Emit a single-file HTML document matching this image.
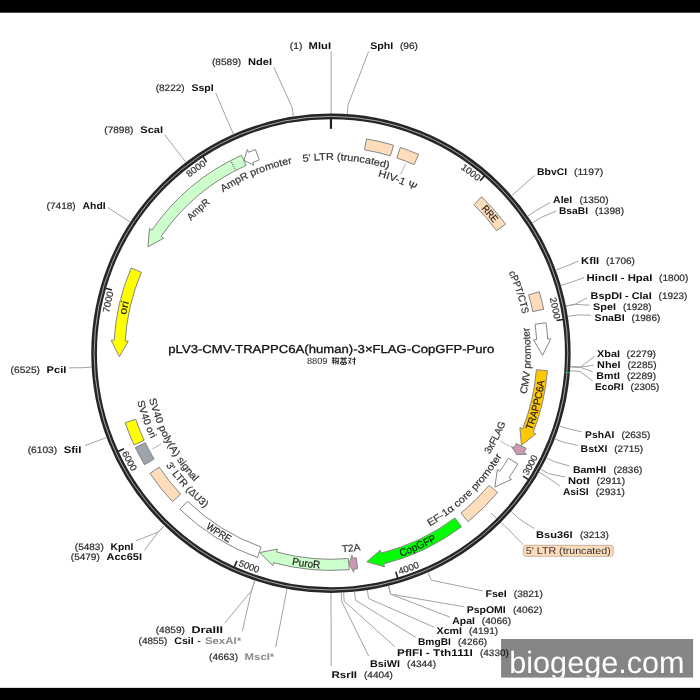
<!DOCTYPE html>
<html><head><meta charset="utf-8"><title>pLV3-CMV-TRAPPC6A(human)-3xFLAG-CopGFP-Puro</title>
<style>
html,body{margin:0;padding:0;background:#fff;}
body{width:700px;height:700px;overflow:hidden;position:relative;font-family:"Liberation Sans", sans-serif;}
svg{position:absolute;left:0;top:0;will-change:transform;filter:blur(0.3px);}
svg text{font-family:"Liberation Sans", sans-serif;text-rendering:geometricPrecision;}
</style></head><body>
<svg width="700" height="700" viewBox="0 0 700 700">
<path d="M490.9 513.1 L504.6 525.7 L523.2 544.6" fill="none" stroke="#a2a2a2" stroke-width="1"/>
<circle cx="330.95" cy="353.2" r="236.85" fill="none" stroke="#262626" stroke-width="5.7"/>
<path d="M330.95 113.8 L330.95 128.8" fill="none" stroke="#222" stroke-width="2.2"/>
<circle cx="330.95" cy="353.2" r="236.85" fill="none" stroke="#a8a8a8" stroke-width="1.0"/>
<path d="M484.39 175.86 L480.13 180.78" fill="none" stroke="#222" stroke-width="1.6"/>
<path id="p1" d="M460.51 168.52 A225.6 225.6 0 0 1 477.35 181.55" fill="none"/>
<text font-size="9.3" fill="#333" font-weight="normal" stroke="#333" stroke-width="0.2"><textPath href="#p1" textLength="21.3" lengthAdjust="spacingAndGlyphs">1000</textPath></text>
<path d="M563.01 319.49 L556.58 320.42" fill="none" stroke="#222" stroke-width="1.6"/>
<path id="p2" d="M549.77 298.31 A225.6 225.6 0 0 1 553.97 319.19" fill="none"/>
<text font-size="9.3" fill="#333" font-weight="normal" stroke="#333" stroke-width="0.2"><textPath href="#p2" textLength="21.3" lengthAdjust="spacingAndGlyphs">2000</textPath></text>
<path d="M528.5 479.55 L523.03 476.05" fill="none" stroke="#222" stroke-width="1.6"/>
<path id="p3" d="M527.64 475.67 A231.7 231.7 0 0 0 538.05 457.1" fill="none"/>
<text font-size="9.3" fill="#333" font-weight="normal" stroke="#333" stroke-width="0.2"><textPath href="#p3" textLength="21.3" lengthAdjust="spacingAndGlyphs">3000</textPath></text>
<path d="M397.67 578.01 L395.82 571.78" fill="none" stroke="#222" stroke-width="1.6"/>
<path id="p4" d="M399.56 574.51 A231.7 231.7 0 0 0 419.58 567.28" fill="none"/>
<text font-size="9.3" fill="#333" font-weight="normal" stroke="#333" stroke-width="0.2"><textPath href="#p4" textLength="21.3" lengthAdjust="spacingAndGlyphs">4000</textPath></text>
<path d="M234.31 566.86 L236.99 560.94" fill="none" stroke="#222" stroke-width="1.6"/>
<path id="p5" d="M238.03 565.45 A231.7 231.7 0 0 0 257.9 573.08" fill="none"/>
<text font-size="9.3" fill="#333" font-weight="normal" stroke="#333" stroke-width="0.2"><textPath href="#p5" textLength="21.3" lengthAdjust="spacingAndGlyphs">5000</textPath></text>
<path d="M118.07 451.55 L123.97 448.82" fill="none" stroke="#222" stroke-width="1.6"/>
<path id="p6" d="M121.8 452.91 A231.7 231.7 0 0 0 131.84 471.69" fill="none"/>
<text font-size="9.3" fill="#333" font-weight="normal" stroke="#333" stroke-width="0.2"><textPath href="#p6" textLength="21.3" lengthAdjust="spacingAndGlyphs">6000</textPath></text>
<path d="M105.61 288.28 L111.86 290.08" fill="none" stroke="#222" stroke-width="1.6"/>
<path id="p7" d="M108.95 313.04 A225.6 225.6 0 0 1 113.73 292.29" fill="none"/>
<text font-size="9.3" fill="#333" font-weight="normal" stroke="#333" stroke-width="0.2"><textPath href="#p7" textLength="21.3" lengthAdjust="spacingAndGlyphs">7000</textPath></text>
<path d="M203.02 156.67 L206.57 162.12" fill="none" stroke="#222" stroke-width="1.6"/>
<path id="p8" d="M189.35 177.57 A225.6 225.6 0 0 1 206.54 165.01" fill="none"/>
<text font-size="9.3" fill="#333" font-weight="normal" stroke="#333" stroke-width="0.2"><textPath href="#p8" textLength="21.3" lengthAdjust="spacingAndGlyphs">8000</textPath></text>
<path d="M564.17 372.33 L569.85 372.8" fill="none" stroke="#22b14c" stroke-width="1"/>
<path d="M366.42 138.92 A217.2 217.2 0 0 1 393.57 145.22 L390.37 155.85 A206.1 206.1 0 0 0 364.61 149.87 Z" fill="#FFDDBB" stroke="#858585" stroke-width="1" stroke-linejoin="miter"/>
<path d="M400.36 147.39 A217.2 217.2 0 0 1 418.55 154.45 L414.07 164.6 A206.1 206.1 0 0 0 396.81 157.91 Z" fill="#FFDDBB" stroke="#858585" stroke-width="1" stroke-linejoin="miter"/>
<path d="M481.65 196.78 A217.2 217.2 0 0 1 505.63 224.11 L496.7 230.71 A206.1 206.1 0 0 0 473.94 204.78 Z" fill="#FFDDBB" stroke="#858585" stroke-width="1" stroke-linejoin="miter"/>
<path d="M539.27 291.73 A217.2 217.2 0 0 1 543.67 309.31 L532.8 311.56 A206.1 206.1 0 0 0 528.63 294.88 Z" fill="#FFDDBB" stroke="#858585" stroke-width="1" stroke-linejoin="miter"/>
<path d="M546 322.74 A217.2 217.2 0 0 1 547.69 339 L550.73 338.8 L542.59 355.28 L533.57 339.92 L536.61 339.72 A206.1 206.1 0 0 0 535.01 324.3 Z" fill="#FFFFFF" stroke="#858585" stroke-width="1" stroke-linejoin="miter"/>
<path d="M547.45 370.65 A217.2 217.2 0 0 1 533.06 432.76 L535.89 433.87 L521.47 445.38 L519.89 427.57 L522.73 428.69 A206.1 206.1 0 0 0 536.38 369.76 Z" fill="#FFC800" stroke="#858585" stroke-width="1" stroke-linejoin="miter"/>
<path d="M526.2 448.35 A217.2 217.2 0 0 1 523.94 452.85 L526.65 454.25 L516.71 454.64 L511.37 446.36 L514.08 447.76 A206.1 206.1 0 0 0 516.22 443.49 Z" fill="#CC99B2" stroke="#858585" stroke-width="1" stroke-linejoin="miter"/>
<path d="M517.83 463.9 A217.2 217.2 0 0 1 508.97 477.63 L511.47 479.38 L494.82 487.15 L497.38 469.52 L499.88 471.27 A206.1 206.1 0 0 0 508.28 458.24 Z" fill="#FFFFFF" stroke="#858585" stroke-width="1" stroke-linejoin="miter"/>
<path d="M497.64 492.45 A217.2 217.2 0 0 1 468.02 521.68 L461.02 513.07 A206.1 206.1 0 0 0 489.12 485.34 Z" fill="#FFDDBB" stroke="#858585" stroke-width="1" stroke-linejoin="miter"/>
<path d="M461.56 526.74 A217.2 217.2 0 0 1 383.78 563.88 L384.52 566.83 L366.78 561.79 L380.34 550.15 L381.08 553.11 A206.1 206.1 0 0 0 454.88 517.88 Z" fill="#00FF00" stroke="#858585" stroke-width="1" stroke-linejoin="miter"/>
<path d="M357.61 568.76 A217.2 217.2 0 0 1 353.53 569.22 L353.84 572.26 L348.97 564.08 L352.06 555.15 L352.37 558.18 A206.1 206.1 0 0 0 356.24 557.74 Z" fill="#CC99B2" stroke="#858585" stroke-width="1" stroke-linejoin="miter"/>
<path d="M349.29 569.62 A217.2 217.2 0 0 1 273.62 562.7 L272.81 565.64 L259.82 552.54 L277.35 549.05 L276.55 551.99 A206.1 206.1 0 0 0 348.35 558.56 Z" fill="#CCFFCC" stroke="#858585" stroke-width="1" stroke-linejoin="miter"/>
<path d="M257.38 557.56 A217.2 217.2 0 0 1 179.86 509.24 L187.59 501.27 A206.1 206.1 0 0 0 261.14 547.12 Z" fill="#FFFFFF" stroke="#858585" stroke-width="1" stroke-linejoin="miter"/>
<path d="M172.48 501.73 A217.2 217.2 0 0 1 150 473.34 L159.25 467.2 A206.1 206.1 0 0 0 180.58 494.14 Z" fill="#FFDDBB" stroke="#858585" stroke-width="1" stroke-linejoin="miter"/>
<path d="M144.55 464.69 A217.2 217.2 0 0 1 135.3 447.51 L145.29 442.69 A206.1 206.1 0 0 0 154.08 459 Z" fill="#9FA3AB" stroke="#858585" stroke-width="1" stroke-linejoin="miter"/>
<path d="M134.1 444.99 A217.2 217.2 0 0 1 125.17 422.72 L135.69 419.16 A206.1 206.1 0 0 0 144.16 440.3 Z" fill="#FFFF00" stroke="#858585" stroke-width="1" stroke-linejoin="miter"/>
<path d="M131.17 267.98 A217.2 217.2 0 0 0 114.13 340.31 L111.09 340.13 L119.33 356.63 L128.26 341.15 L125.21 340.97 A206.1 206.1 0 0 1 141.38 272.34 Z" fill="#FFFF00" stroke="#858585" stroke-width="1" stroke-linejoin="miter"/>
<path d="M241.51 155.27 A217.2 217.2 0 0 0 151.95 230.17 L149.44 228.44 L147.97 246.83 L163.61 238.19 L161.1 236.46 A206.1 206.1 0 0 1 246.08 165.38 Z" fill="#CCFFCC" stroke="#858585" stroke-width="1" stroke-linejoin="miter"/>
<path d="M255.41 149.56 A217.2 217.2 0 0 0 248.48 152.26 L247.33 149.44 L243.94 160.26 L253.86 165.35 L252.7 162.53 A206.1 206.1 0 0 1 259.27 159.97 Z" fill="#FFFFFF" stroke="#858585" stroke-width="1" stroke-linejoin="miter"/>
<path d="M235.22 169.33 L231.2 161.61" stroke="#333" stroke-width="1" stroke-dasharray="1.1 1.3" fill="none"/>
<path id="p9" d="M481.15 209.1 A208.15 208.15 0 0 1 493.35 223" fill="none"/>
<text font-size="10" fill="#111" font-weight="normal" stroke="#333" stroke-width="0.2"><textPath href="#p9" textLength="18.5" lengthAdjust="spacingAndGlyphs">RRE</textPath></text>
<path id="p10" d="M531.91 430.6 A215.35 215.35 0 0 0 544.52 380.79" fill="none"/>
<text font-size="10.2" fill="#111" font-weight="normal" stroke="#333" stroke-width="0.2"><textPath href="#p10" textLength="51.5" lengthAdjust="spacingAndGlyphs">TRAPPC6A</textPath></text>
<path id="p11" d="M400.98 556.63 A215.15 215.15 0 0 0 436.94 540.43" fill="none"/>
<text font-size="10.6" fill="#111" font-weight="normal" stroke="#333" stroke-width="0.2"><textPath href="#p11" textLength="39.5" lengthAdjust="spacingAndGlyphs">CopGFP</textPath></text>
<path id="p12" d="M291.71 564.84 A215.25 215.25 0 0 0 320.1 568.18" fill="none"/>
<text font-size="10.5" fill="#111" font-weight="normal" stroke="#333" stroke-width="0.2"><textPath href="#p12" textLength="28.6" lengthAdjust="spacingAndGlyphs">PuroR</textPath></text>
<path id="p13" d="M205.47 528.09 A215.25 215.25 0 0 0 228.77 542.65" fill="none"/>
<text font-size="10.4" fill="#222" font-weight="normal" stroke="#333" stroke-width="0.2"><textPath href="#p13" textLength="27.5" lengthAdjust="spacingAndGlyphs">WPRE</textPath></text>
<path id="p14" d="M126.15 314.93 A208.35 208.35 0 0 1 128.98 302.04" fill="none"/>
<text font-size="10.5" fill="#111" font-weight="normal" stroke="#333" stroke-width="0.2"><textPath href="#p14" textLength="13.2" lengthAdjust="spacingAndGlyphs">ori</textPath></text>
<path id="p15" d="M190.92 220.97 A192.6 192.6 0 0 1 210.38 203.01" fill="none"/>
<text font-size="10" fill="#333" font-weight="normal" stroke="#333" stroke-width="0.2"><textPath href="#p15" textLength="26.5" lengthAdjust="spacingAndGlyphs">AmpR</textPath></text>
<path id="p16" d="M223.13 192.4 A193.6 193.6 0 0 1 292.16 163.53" fill="none"/>
<text font-size="10" fill="#333" font-weight="normal" stroke="#333" stroke-width="0.2"><textPath href="#p16" textLength="75.3" lengthAdjust="spacingAndGlyphs">AmpR promoter</textPath></text>
<path id="p17" d="M302.97 162.04 A193.2 193.2 0 0 1 388.49 168.77" fill="none"/>
<text font-size="10" fill="#333" font-weight="normal" stroke="#333" stroke-width="0.2"><textPath href="#p17" textLength="86.5" lengthAdjust="spacingAndGlyphs">5' LTR (truncated)</textPath></text>
<path id="p18" d="M377.77 176.29 A183 183 0 0 1 415.1 190.7" fill="none"/>
<text font-size="10" fill="#333" font-weight="normal" stroke="#333" stroke-width="0.2"><textPath href="#p18" textLength="40.1" lengthAdjust="spacingAndGlyphs">HIV-1 &#936;</textPath></text>
<path id="p19" d="M508.68 272.47 A195.2 195.2 0 0 1 522.18 314.04" fill="none"/>
<text font-size="10" fill="#333" font-weight="normal" stroke="#333" stroke-width="0.2"><textPath href="#p19" textLength="43.8" lengthAdjust="spacingAndGlyphs">cPPT/CTS</textPath></text>
<path id="p20" d="M526.48 394.28 A199.8 199.8 0 0 0 529.06 327.25" fill="none"/>
<text font-size="10" fill="#333" font-weight="normal" stroke="#333" stroke-width="0.2"><textPath href="#p20" textLength="67.4" lengthAdjust="spacingAndGlyphs">CMV promoter</textPath></text>
<path id="p21" d="M489.49 454.61 A188.2 188.2 0 0 0 505.7 423.08" fill="none"/>
<text font-size="10" fill="#333" font-weight="normal" stroke="#333" stroke-width="0.2"><textPath href="#p21" textLength="35.5" lengthAdjust="spacingAndGlyphs">3xFLAG</textPath></text>
<path id="p22" d="M429.65 526.57 A199.5 199.5 0 0 0 501.86 456.11" fill="none"/>
<text font-size="10" fill="#333" font-weight="normal" stroke="#333" stroke-width="0.2"><textPath href="#p22" textLength="102" lengthAdjust="spacingAndGlyphs">EF-1&#945; core promoter</textPath></text>
<path id="p23" d="M149.11 398.91 A187.5 187.5 0 0 0 194.47 481.77" fill="none"/>
<text font-size="10" fill="#333" font-weight="normal" stroke="#333" stroke-width="0.2"><textPath href="#p23" textLength="95.5" lengthAdjust="spacingAndGlyphs">SV40 poly(A) signal</textPath></text>
<path id="p24" d="M342.17 552.18 A199.3 199.3 0 0 0 360.66 550.27" fill="none"/>
<text font-size="10" fill="#333" font-weight="normal" stroke="#333" stroke-width="0.2"><textPath href="#p24" textLength="18.6" lengthAdjust="spacingAndGlyphs">T2A</textPath></text>
<path id="p25" d="M137.34 401.31 A199.5 199.5 0 0 0 150.8 438.91" fill="none"/>
<text font-size="10" fill="#333" font-weight="normal" stroke="#333" stroke-width="0.2"><textPath href="#p25" textLength="40" lengthAdjust="spacingAndGlyphs">SV40 ori</textPath></text>
<path id="p26" d="M165.89 465.25 A199.5 199.5 0 0 0 204.94 507.86" fill="none"/>
<text font-size="10" fill="#333" font-weight="normal" stroke="#333" stroke-width="0.2"><textPath href="#p26" textLength="58" lengthAdjust="spacingAndGlyphs">3' LTR (&#916;U3)</textPath></text>
<path d="M405.7 163.4 L400.5 174.5" fill="none" stroke="#a2a2a2" stroke-width="0.8"/>
<path d="M152.3 449.1 L161.4 443.7" fill="none" stroke="#a2a2a2" stroke-width="0.8"/>
<path d="M500.3 441 L510.3 446.7" fill="none" stroke="#a2a2a2" stroke-width="0.8"/>
<text x="370.2" y="48.8" font-size="9.7" font-weight="bold" fill="#111" text-anchor="start" textLength="23.1" lengthAdjust="spacingAndGlyphs">SphI</text>
<text x="400" y="48.8" font-size="9.2" font-weight="normal" fill="#2a2a2a" text-anchor="start" textLength="18" lengthAdjust="spacingAndGlyphs" stroke="#2a2a2a" stroke-width="0.2">(96)</text>
<text x="537.1" y="175.1" font-size="9.7" font-weight="bold" fill="#111" text-anchor="start" textLength="30" lengthAdjust="spacingAndGlyphs">BbvCI</text>
<text x="574" y="175.1" font-size="9.2" font-weight="normal" fill="#2a2a2a" text-anchor="start" textLength="29.1" lengthAdjust="spacingAndGlyphs" stroke="#2a2a2a" stroke-width="0.2">(1197)</text>
<text x="553.1" y="202.9" font-size="9.7" font-weight="bold" fill="#111" text-anchor="start" textLength="19.2" lengthAdjust="spacingAndGlyphs">AleI</text>
<text x="579.4" y="202.9" font-size="9.2" font-weight="normal" fill="#2a2a2a" text-anchor="start" textLength="29.2" lengthAdjust="spacingAndGlyphs" stroke="#2a2a2a" stroke-width="0.2">(1350)</text>
<text x="558.9" y="213.6" font-size="9.7" font-weight="bold" fill="#111" text-anchor="start" textLength="29.1" lengthAdjust="spacingAndGlyphs">BsaBI</text>
<text x="594.9" y="213.6" font-size="9.2" font-weight="normal" fill="#2a2a2a" text-anchor="start" textLength="29.1" lengthAdjust="spacingAndGlyphs" stroke="#2a2a2a" stroke-width="0.2">(1398)</text>
<text x="581.1" y="264.3" font-size="9.7" font-weight="bold" fill="#111" text-anchor="start" textLength="18" lengthAdjust="spacingAndGlyphs">KflI</text>
<text x="606" y="264.3" font-size="9.2" font-weight="normal" fill="#2a2a2a" text-anchor="start" textLength="28.9" lengthAdjust="spacingAndGlyphs" stroke="#2a2a2a" stroke-width="0.2">(1706)</text>
<text x="586.6" y="280.9" font-size="9.7" font-weight="bold" fill="#111" text-anchor="start" textLength="65.7" lengthAdjust="spacingAndGlyphs">HincII - HpaI</text>
<text x="659.1" y="280.9" font-size="9.2" font-weight="normal" fill="#2a2a2a" text-anchor="start" textLength="29.2" lengthAdjust="spacingAndGlyphs" stroke="#2a2a2a" stroke-width="0.2">(1800)</text>
<text x="590.6" y="298.9" font-size="9.7" font-weight="bold" fill="#111" text-anchor="start" textLength="61.1" lengthAdjust="spacingAndGlyphs">BspDI - ClaI</text>
<text x="658.6" y="298.9" font-size="9.2" font-weight="normal" fill="#2a2a2a" text-anchor="start" textLength="28.8" lengthAdjust="spacingAndGlyphs" stroke="#2a2a2a" stroke-width="0.2">(1923)</text>
<text x="593.1" y="309.6" font-size="9.7" font-weight="bold" fill="#111" text-anchor="start" textLength="22.9" lengthAdjust="spacingAndGlyphs">SpeI</text>
<text x="622.9" y="309.6" font-size="9.2" font-weight="normal" fill="#2a2a2a" text-anchor="start" textLength="28.8" lengthAdjust="spacingAndGlyphs" stroke="#2a2a2a" stroke-width="0.2">(1928)</text>
<text x="594.6" y="320.6" font-size="9.7" font-weight="bold" fill="#111" text-anchor="start" textLength="30" lengthAdjust="spacingAndGlyphs">SnaBI</text>
<text x="631.4" y="320.6" font-size="9.2" font-weight="normal" fill="#2a2a2a" text-anchor="start" textLength="28.9" lengthAdjust="spacingAndGlyphs" stroke="#2a2a2a" stroke-width="0.2">(1986)</text>
<text x="597.1" y="357" font-size="9.7" font-weight="bold" fill="#111" text-anchor="start" textLength="22.9" lengthAdjust="spacingAndGlyphs">XbaI</text>
<text x="626.6" y="357" font-size="9.2" font-weight="normal" fill="#2a2a2a" text-anchor="start" textLength="29.4" lengthAdjust="spacingAndGlyphs" stroke="#2a2a2a" stroke-width="0.2">(2279)</text>
<text x="597.1" y="368" font-size="9.7" font-weight="bold" fill="#111" text-anchor="start" textLength="23.5" lengthAdjust="spacingAndGlyphs">NheI</text>
<text x="627.4" y="368" font-size="9.2" font-weight="normal" fill="#2a2a2a" text-anchor="start" textLength="29.2" lengthAdjust="spacingAndGlyphs" stroke="#2a2a2a" stroke-width="0.2">(2285)</text>
<text x="596.3" y="378.6" font-size="9.7" font-weight="bold" fill="#111" text-anchor="start" textLength="23.7" lengthAdjust="spacingAndGlyphs">BmtI</text>
<text x="626.9" y="378.6" font-size="9.2" font-weight="normal" fill="#2a2a2a" text-anchor="start" textLength="29.1" lengthAdjust="spacingAndGlyphs" stroke="#2a2a2a" stroke-width="0.2">(2289)</text>
<text x="595.1" y="389.8" font-size="9.7" font-weight="bold" fill="#111" text-anchor="start" textLength="28.6" lengthAdjust="spacingAndGlyphs">EcoRI</text>
<text x="630.6" y="389.8" font-size="9.2" font-weight="normal" fill="#2a2a2a" text-anchor="start" textLength="28.8" lengthAdjust="spacingAndGlyphs" stroke="#2a2a2a" stroke-width="0.2">(2305)</text>
<text x="585.1" y="437.8" font-size="9.7" font-weight="bold" fill="#111" text-anchor="start" textLength="29.2" lengthAdjust="spacingAndGlyphs">PshAI</text>
<text x="621.4" y="437.8" font-size="9.2" font-weight="normal" fill="#2a2a2a" text-anchor="start" textLength="28.9" lengthAdjust="spacingAndGlyphs" stroke="#2a2a2a" stroke-width="0.2">(2635)</text>
<text x="580.6" y="452.3" font-size="9.7" font-weight="bold" fill="#111" text-anchor="start" textLength="26.8" lengthAdjust="spacingAndGlyphs">BstXI</text>
<text x="614.3" y="452.3" font-size="9.2" font-weight="normal" fill="#2a2a2a" text-anchor="start" textLength="28.8" lengthAdjust="spacingAndGlyphs" stroke="#2a2a2a" stroke-width="0.2">(2715)</text>
<text x="572.9" y="473" font-size="9.7" font-weight="bold" fill="#111" text-anchor="start" textLength="33.4" lengthAdjust="spacingAndGlyphs">BamHI</text>
<text x="613.4" y="473" font-size="9.2" font-weight="normal" fill="#2a2a2a" text-anchor="start" textLength="28.9" lengthAdjust="spacingAndGlyphs" stroke="#2a2a2a" stroke-width="0.2">(2836)</text>
<text x="568" y="483.7" font-size="9.7" font-weight="bold" fill="#111" text-anchor="start" textLength="21.7" lengthAdjust="spacingAndGlyphs">NotI</text>
<text x="596.6" y="483.7" font-size="9.2" font-weight="normal" fill="#2a2a2a" text-anchor="start" textLength="28.5" lengthAdjust="spacingAndGlyphs" stroke="#2a2a2a" stroke-width="0.2">(2911)</text>
<text x="562.9" y="494.9" font-size="9.7" font-weight="bold" fill="#111" text-anchor="start" textLength="25.7" lengthAdjust="spacingAndGlyphs">AsiSI</text>
<text x="595.7" y="494.9" font-size="9.2" font-weight="normal" fill="#2a2a2a" text-anchor="start" textLength="29.2" lengthAdjust="spacingAndGlyphs" stroke="#2a2a2a" stroke-width="0.2">(2931)</text>
<text x="536.1" y="537.6" font-size="9.7" font-weight="bold" fill="#111" text-anchor="start" textLength="36.4" lengthAdjust="spacingAndGlyphs">Bsu36I</text>
<text x="580" y="537.6" font-size="9.2" font-weight="normal" fill="#2a2a2a" text-anchor="start" textLength="28.8" lengthAdjust="spacingAndGlyphs" stroke="#2a2a2a" stroke-width="0.2">(3213)</text>
<text x="485.4" y="596.7" font-size="9.7" font-weight="bold" fill="#111" text-anchor="start" textLength="21.4" lengthAdjust="spacingAndGlyphs">FseI</text>
<text x="513.8" y="596.7" font-size="9.2" font-weight="normal" fill="#2a2a2a" text-anchor="start" textLength="29" lengthAdjust="spacingAndGlyphs" stroke="#2a2a2a" stroke-width="0.2">(3821)</text>
<text x="466.7" y="613" font-size="9.7" font-weight="bold" fill="#111" text-anchor="start" textLength="39.1" lengthAdjust="spacingAndGlyphs">PspOMI</text>
<text x="513" y="613" font-size="9.2" font-weight="normal" fill="#2a2a2a" text-anchor="start" textLength="29.3" lengthAdjust="spacingAndGlyphs" stroke="#2a2a2a" stroke-width="0.2">(4062)</text>
<text x="452.3" y="623.7" font-size="9.7" font-weight="bold" fill="#111" text-anchor="start" textLength="22.6" lengthAdjust="spacingAndGlyphs">ApaI</text>
<text x="481.8" y="623.7" font-size="9.2" font-weight="normal" fill="#2a2a2a" text-anchor="start" textLength="29.2" lengthAdjust="spacingAndGlyphs" stroke="#2a2a2a" stroke-width="0.2">(4066)</text>
<text x="436.6" y="634" font-size="9.7" font-weight="bold" fill="#111" text-anchor="start" textLength="25.4" lengthAdjust="spacingAndGlyphs">XcmI</text>
<text x="469" y="634" font-size="9.2" font-weight="normal" fill="#2a2a2a" text-anchor="start" textLength="29.2" lengthAdjust="spacingAndGlyphs" stroke="#2a2a2a" stroke-width="0.2">(4191)</text>
<text x="418" y="645.1" font-size="9.7" font-weight="bold" fill="#111" text-anchor="start" textLength="32.9" lengthAdjust="spacingAndGlyphs">BmgBI</text>
<text x="458" y="645.1" font-size="9.2" font-weight="normal" fill="#2a2a2a" text-anchor="start" textLength="29.1" lengthAdjust="spacingAndGlyphs" stroke="#2a2a2a" stroke-width="0.2">(4266)</text>
<text x="397.1" y="655.6" font-size="9.7" font-weight="bold" fill="#111" text-anchor="start" textLength="75.8" lengthAdjust="spacingAndGlyphs">PflFI - Tth111I</text>
<text x="480" y="655.6" font-size="9.2" font-weight="normal" fill="#2a2a2a" text-anchor="start" textLength="28.8" lengthAdjust="spacingAndGlyphs" stroke="#2a2a2a" stroke-width="0.2">(4330)</text>
<text x="370" y="666.6" font-size="9.7" font-weight="bold" fill="#111" text-anchor="start" textLength="30" lengthAdjust="spacingAndGlyphs">BsiWI</text>
<text x="407.1" y="666.6" font-size="9.2" font-weight="normal" fill="#2a2a2a" text-anchor="start" textLength="28.9" lengthAdjust="spacingAndGlyphs" stroke="#2a2a2a" stroke-width="0.2">(4344)</text>
<text x="331.4" y="677.7" font-size="9.7" font-weight="bold" fill="#111" text-anchor="start" textLength="25.7" lengthAdjust="spacingAndGlyphs">RsrII</text>
<text x="364" y="677.7" font-size="9.2" font-weight="normal" fill="#2a2a2a" text-anchor="start" textLength="28.9" lengthAdjust="spacingAndGlyphs" stroke="#2a2a2a" stroke-width="0.2">(4404)</text>
<text x="308.6" y="48.8" font-size="9.7" font-weight="bold" fill="#111" text-anchor="start" textLength="22.4" lengthAdjust="spacingAndGlyphs">MluI</text>
<text x="289.8" y="48.8" font-size="9.2" font-weight="normal" fill="#2a2a2a" text-anchor="start" textLength="12.5" lengthAdjust="spacingAndGlyphs" stroke="#2a2a2a" stroke-width="0.2">(1)</text>
<text x="248" y="64.9" font-size="9.7" font-weight="bold" fill="#111" text-anchor="start" textLength="24" lengthAdjust="spacingAndGlyphs">NdeI</text>
<text x="212" y="64.9" font-size="9.2" font-weight="normal" fill="#2a2a2a" text-anchor="start" textLength="29.1" lengthAdjust="spacingAndGlyphs" stroke="#2a2a2a" stroke-width="0.2">(8589)</text>
<text x="191.4" y="90.9" font-size="9.7" font-weight="bold" fill="#111" text-anchor="start" textLength="22.3" lengthAdjust="spacingAndGlyphs">SspI</text>
<text x="155.7" y="90.9" font-size="9.2" font-weight="normal" fill="#2a2a2a" text-anchor="start" textLength="28.9" lengthAdjust="spacingAndGlyphs" stroke="#2a2a2a" stroke-width="0.2">(8222)</text>
<text x="140.3" y="132.9" font-size="9.7" font-weight="bold" fill="#111" text-anchor="start" textLength="22.8" lengthAdjust="spacingAndGlyphs">ScaI</text>
<text x="104.3" y="132.9" font-size="9.2" font-weight="normal" fill="#2a2a2a" text-anchor="start" textLength="29.1" lengthAdjust="spacingAndGlyphs" stroke="#2a2a2a" stroke-width="0.2">(7898)</text>
<text x="82.6" y="208.6" font-size="9.7" font-weight="bold" fill="#111" text-anchor="start" textLength="23.1" lengthAdjust="spacingAndGlyphs">AhdI</text>
<text x="46.6" y="208.6" font-size="9.2" font-weight="normal" fill="#2a2a2a" text-anchor="start" textLength="29.1" lengthAdjust="spacingAndGlyphs" stroke="#2a2a2a" stroke-width="0.2">(7418)</text>
<text x="46.6" y="372.9" font-size="9.7" font-weight="bold" fill="#111" text-anchor="start" textLength="19.7" lengthAdjust="spacingAndGlyphs">PciI</text>
<text x="10.6" y="372.9" font-size="9.2" font-weight="normal" fill="#2a2a2a" text-anchor="start" textLength="29.4" lengthAdjust="spacingAndGlyphs" stroke="#2a2a2a" stroke-width="0.2">(6525)</text>
<text x="63.7" y="452.7" font-size="9.7" font-weight="bold" fill="#111" text-anchor="start" textLength="17.7" lengthAdjust="spacingAndGlyphs">SfiI</text>
<text x="27.7" y="452.7" font-size="9.2" font-weight="normal" fill="#2a2a2a" text-anchor="start" textLength="29.4" lengthAdjust="spacingAndGlyphs" stroke="#2a2a2a" stroke-width="0.2">(6103)</text>
<text x="110.6" y="549.7" font-size="9.7" font-weight="bold" fill="#111" text-anchor="start" textLength="22.8" lengthAdjust="spacingAndGlyphs">KpnI</text>
<text x="74.8" y="549.7" font-size="9.2" font-weight="normal" fill="#2a2a2a" text-anchor="start" textLength="29" lengthAdjust="spacingAndGlyphs" stroke="#2a2a2a" stroke-width="0.2">(5483)</text>
<text x="106.6" y="560.3" font-size="9.7" font-weight="bold" fill="#111" text-anchor="start" textLength="35.4" lengthAdjust="spacingAndGlyphs">Acc65I</text>
<text x="70.8" y="560.3" font-size="9.2" font-weight="normal" fill="#2a2a2a" text-anchor="start" textLength="29" lengthAdjust="spacingAndGlyphs" stroke="#2a2a2a" stroke-width="0.2">(5479)</text>
<text x="191.4" y="632.9" font-size="9.7" font-weight="bold" fill="#111" text-anchor="start" textLength="31.5" lengthAdjust="spacingAndGlyphs">DraIII</text>
<text x="155.7" y="632.9" font-size="9.2" font-weight="normal" fill="#2a2a2a" text-anchor="start" textLength="29.2" lengthAdjust="spacingAndGlyphs" stroke="#2a2a2a" stroke-width="0.2">(4859)</text>
<text x="244.6" y="660.2" font-size="9.7" font-weight="bold" fill="#8c8c8c" text-anchor="start" textLength="29.7" lengthAdjust="spacingAndGlyphs">MscI*</text>
<text x="209.1" y="660.2" font-size="9.2" font-weight="normal" fill="#2a2a2a" text-anchor="start" textLength="28.9" lengthAdjust="spacingAndGlyphs" stroke="#2a2a2a" stroke-width="0.2">(4663)</text>
<text x="138.6" y="644" font-size="9.2" font-weight="normal" fill="#2a2a2a" text-anchor="start" textLength="28.8" lengthAdjust="spacingAndGlyphs" stroke="#2a2a2a" stroke-width="0.2">(4855)</text>
<text x="174.3" y="644" font-size="9.7" font-weight="bold" fill="#111" text-anchor="start" textLength="19.4" lengthAdjust="spacingAndGlyphs">CsiI</text>
<text x="197.2" y="644" font-size="9.7" font-weight="bold" fill="#333" text-anchor="start" textLength="3.6" lengthAdjust="spacingAndGlyphs">-</text>
<text x="204.9" y="644" font-size="9.7" font-weight="bold" fill="#8c8c8c" text-anchor="start" textLength="36.2" lengthAdjust="spacingAndGlyphs">SexAI*</text>
<path d="M331.12 113.5 L331.13 104.5 L331.2 51.5" fill="none" stroke="#a2a2a2" stroke-width="1"/>
<path d="M347.35 114.06 L347.97 105.08 L368.6 51.5" fill="none" stroke="#a2a2a2" stroke-width="1"/>
<path d="M293.49 116.45 L292.01 107.06 L273.7 67.1" fill="none" stroke="#a2a2a2" stroke-width="1"/>
<path d="M233.5 134.2 L229.84 125.98 L215.7 93" fill="none" stroke="#a2a2a2" stroke-width="1"/>
<path d="M185.93 162.35 L180.48 155.18 L164.5 134.5" fill="none" stroke="#a2a2a2" stroke-width="1"/>
<path d="M130.27 222.11 L122.74 217.19 L107.7 207.5" fill="none" stroke="#a2a2a2" stroke-width="1"/>
<path d="M91.66 367.17 L82.67 367.69 L69.1 367.9" fill="none" stroke="#a2a2a2" stroke-width="1"/>
<path d="M106.56 437.49 L98.13 440.65 L84.9 445.7" fill="none" stroke="#a2a2a2" stroke-width="1"/>
<path d="M164.46 525.64 L158.21 532.12 L135.7 540.9" fill="none" stroke="#a2a2a2" stroke-width="1"/>
<path d="M164.46 525.64 L158.21 532.12 L144.3 550.5" fill="none" stroke="#a2a2a2" stroke-width="1"/>
<path d="M254.92 580.52 L251.59 590.48 L224.9 622.9" fill="none" stroke="#a2a2a2" stroke-width="1"/>
<path d="M254.92 580.52 L251.59 590.48 L242.3 631.4" fill="none" stroke="#a2a2a2" stroke-width="1"/>
<path d="M287 588.84 L285.35 597.68 L275.7 647.1" fill="none" stroke="#a2a2a2" stroke-width="1"/>
<path d="M511.63 195.68 L518.41 189.77 L534.6 175.4" fill="none" stroke="#a2a2a2" stroke-width="1"/>
<path d="M527.71 216.3 L535.1 211.16 L550.2 202.4" fill="none" stroke="#a2a2a2" stroke-width="1"/>
<path d="M532.28 223.12 L541.1 217.42 L556.3 211" fill="none" stroke="#a2a2a2" stroke-width="1"/>
<path d="M555.79 270.12 L564.23 267 L578.8 261" fill="none" stroke="#a2a2a2" stroke-width="1"/>
<path d="M560.85 285.37 L569.48 282.82 L584 277.7" fill="none" stroke="#a2a2a2" stroke-width="1"/>
<path d="M565.98 306.11 L574.8 304.34 L587.2 297.8" fill="none" stroke="#a2a2a2" stroke-width="1"/>
<path d="M565.98 306.11 L574.8 304.34 L589.5 305.2" fill="none" stroke="#a2a2a2" stroke-width="1"/>
<path d="M567.8 316.37 L576.7 314.99 L590.8 315.2" fill="none" stroke="#a2a2a2" stroke-width="1"/>
<path d="M570.27 366.66 L580.26 367.22 L594.6 356.3" fill="none" stroke="#a2a2a2" stroke-width="1"/>
<path d="M570.27 366.66 L580.26 367.22 L593.7 365.2" fill="none" stroke="#a2a2a2" stroke-width="1"/>
<path d="M570.27 366.66 L580.26 367.22 L592.5 371.8" fill="none" stroke="#a2a2a2" stroke-width="1"/>
<path d="M570.01 370.75 L579.98 371.48 L592.5 380.8" fill="none" stroke="#a2a2a2" stroke-width="1"/>
<path d="M559.32 426.02 L567.9 428.75 L581.3 431.7" fill="none" stroke="#a2a2a2" stroke-width="1"/>
<path d="M554.8 438.92 L563.2 442.14 L577.7 445.4" fill="none" stroke="#a2a2a2" stroke-width="1"/>
<path d="M546.57 457.9 L554.67 461.83 L569.7 466" fill="none" stroke="#a2a2a2" stroke-width="1"/>
<path d="M540.67 469.28 L548.54 473.64 L565.1 477" fill="none" stroke="#a2a2a2" stroke-width="1"/>
<path d="M538.99 472.26 L546.8 476.73 L559.9 486" fill="none" stroke="#a2a2a2" stroke-width="1"/>
<path d="M511.01 511.42 L520.02 519.34 L534.3 528.7" fill="none" stroke="#a2a2a2" stroke-width="1"/>
<path d="M427.86 572.44 L431.29 580.21 L482.9 590.9" fill="none" stroke="#a2a2a2" stroke-width="1"/>
<path d="M388.59 585.87 L390.64 594.12 L464.3 606.8" fill="none" stroke="#a2a2a2" stroke-width="1"/>
<path d="M388.59 585.87 L390.64 594.12 L450 617.2" fill="none" stroke="#a2a2a2" stroke-width="1"/>
<path d="M367.31 590.13 L368.6 598.53 L434.3 627.3" fill="none" stroke="#a2a2a2" stroke-width="1"/>
<path d="M354.59 591.73 L355.43 600.19 L415.7 637.3" fill="none" stroke="#a2a2a2" stroke-width="1"/>
<path d="M343.68 592.56 L344.13 601.05 L394.9 646.8" fill="none" stroke="#a2a2a2" stroke-width="1"/>
<path d="M341.29 592.68 L341.66 601.17 L368.6 655.9" fill="none" stroke="#a2a2a2" stroke-width="1"/>
<path d="M331.04 592.9 L331.04 601.9 L331.2 666" fill="none" stroke="#a2a2a2" stroke-width="1"/>
<rect x="523.4" y="545.3" width="89.8" height="11" rx="2.5" fill="#FFDDBB" stroke="#b9a48f" stroke-width="0.8"/>
<text x="525.8" y="554" font-size="9.8" font-weight="normal" fill="#333" text-anchor="start" textLength="85" lengthAdjust="spacingAndGlyphs">5' LTR (truncated)</text>
<text x="168.3" y="353.3" font-size="11.6" fill="#111" stroke="#111" stroke-width="0.3" textLength="326" lengthAdjust="spacingAndGlyphs">pLV3-CMV-TRAPPC6A(human)-3&#215;FLAG-CopGFP-Puro</text>
<text x="307" y="364.1" font-size="9" font-weight="normal" fill="#222" text-anchor="start" textLength="20.5" lengthAdjust="spacingAndGlyphs">8809</text>
<path d="M331.8 358.3 L334.8 358.3 M333.3 357.3 L333.3 364.3 M331.8 360.3 L334.8 360.3 M331.8 362.3 L334.8 362.3 M335.8 357.3 L335.8 364.3 M335.8 358.3 L338.8 358.3 M335.8 361.3 L338.8 361.3 M338.8 358.3 L337.8 364.3 M336.8 362.3 L338.8 364.3 M340 358.3 L347 358.3 M342 357.3 L342 362.3 M345 357.3 L345 362.3 M342 359.8 L345 359.8 M340 362.3 L347 362.3 M341 364.3 L346 364.3 M343.5 362.3 L343.5 364.3 M340 363.8 L341.5 362.8 M347 363.8 L345.5 362.8 M348.2 358.3 L351.2 358.3 M351.2 358.3 L348.7 363.8 M348.7 360.3 L351.2 363.8 M352.2 359.3 L355.7 359.3 M354.5 357.3 L354.5 364.3 M354.5 364.3 L353.5 363.8 M352.7 360.8 L353.4 362.1" stroke="#222" stroke-width="0.95" fill="none"/>
<clipPath id="wmc"><rect x="501.1" y="639" width="192" height="38.6"/></clipPath>
<rect x="501.1" y="639" width="192" height="38.6" fill="#000" fill-opacity="0.48"/>
<text x="509.3" y="672.6" font-size="30.7" fill="#fff" textLength="175.2" lengthAdjust="spacingAndGlyphs" clip-path="url(#wmc)">biogege.com</text>
<rect x="0" y="0" width="700" height="12.7" fill="#000"/>
<rect x="0" y="687.85" width="700" height="12.15" fill="#000"/>
</svg>
</body></html>
